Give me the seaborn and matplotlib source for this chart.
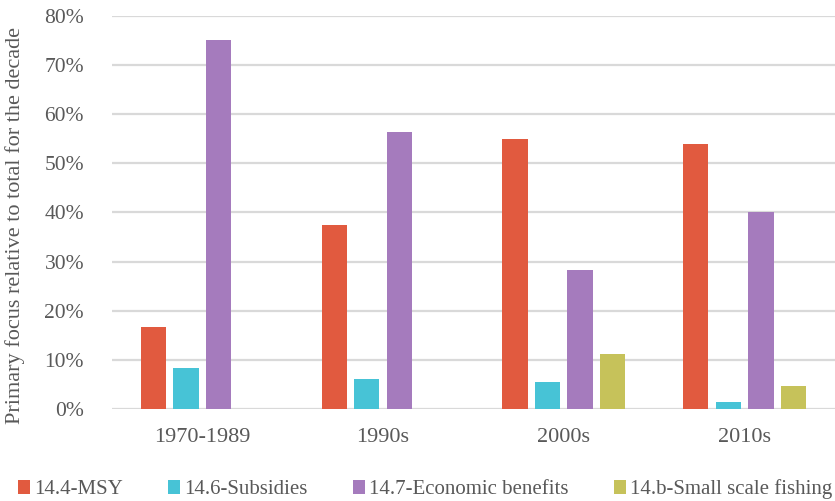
import pandas as pd
import matplotlib.pyplot as plt
import matplotlib.ticker as mticker
import seaborn as sns

# Decades on the x axis
decades = ['1970-1989', '1990s', '2000s', '2010s']

# Share of primary focus per target (fractions of the decade total)
msy = [0.167, 0.374, 0.550, 0.540]
subsidies = [0.084, 0.061, 0.055, 0.013]
economic = [0.751, 0.564, 0.283, 0.401]
small_scale = [0.0, 0.0, 0.112, 0.047]

series_names = ['14.4-MSY', '14.6-Subsidies', '14.7-Economic benefits', '14.b-Small scale fishing']
colors = ['#E15A3F', '#47C3D6', '#A57BBD', '#C6C25A']

df = pd.DataFrame({
    'Decade': decades * 4,
    'Target': [n for n in series_names for _ in decades],
    'Share': msy + subsidies + economic + small_scale,
})

sns.set_theme(style='white')
plt.rcParams['font.family'] = ['Liberation Serif', 'DejaVu Serif']
text_color = '#595959'

fig = plt.figure(figsize=(8.35, 5.01), dpi=100)
ax = fig.add_axes([0.134, 0.184, 0.866, 0.784])

sns.barplot(data=df, x='Decade', y='Share', hue='Target', hue_order=series_names,
            palette=colors, width=0.72, gap=0.22, linewidth=0, saturation=1,
            errorbar=None, ax=ax, zorder=3)

ax.set_ylim(0, 0.8)
ax.set_xlim(-0.5, 3.5)
ax.yaxis.set_major_locator(mticker.MultipleLocator(0.1))
ax.yaxis.set_major_formatter(mticker.PercentFormatter(1.0, decimals=0))
ax.grid(axis='y', color='#D9D9D9', linewidth=1.6, zorder=0)
ax.set_axisbelow(True)
for s in ax.spines.values():
    s.set_visible(False)

ax.tick_params(axis='y', length=0, labelsize=15.5, colors=text_color, pad=20)
ax.tick_params(axis='x', length=0, labelsize=16, colors=text_color, pad=14)
ax.set_xlabel('')
ax.set_ylabel('Primary focus relative to total for the decade', fontsize=16,
              color=text_color)
ax.yaxis.set_label_coords(-0.12, 0.466)

ax.legend(loc='upper center', bbox_to_anchor=(0.433, -0.158), ncol=4, frameon=False,
          fontsize=15, labelcolor=text_color, handlelength=0.55, handleheight=0.7,
          handletextpad=0.2, columnspacing=2.2, borderaxespad=0)

fig.savefig('out.png', dpi=100)
